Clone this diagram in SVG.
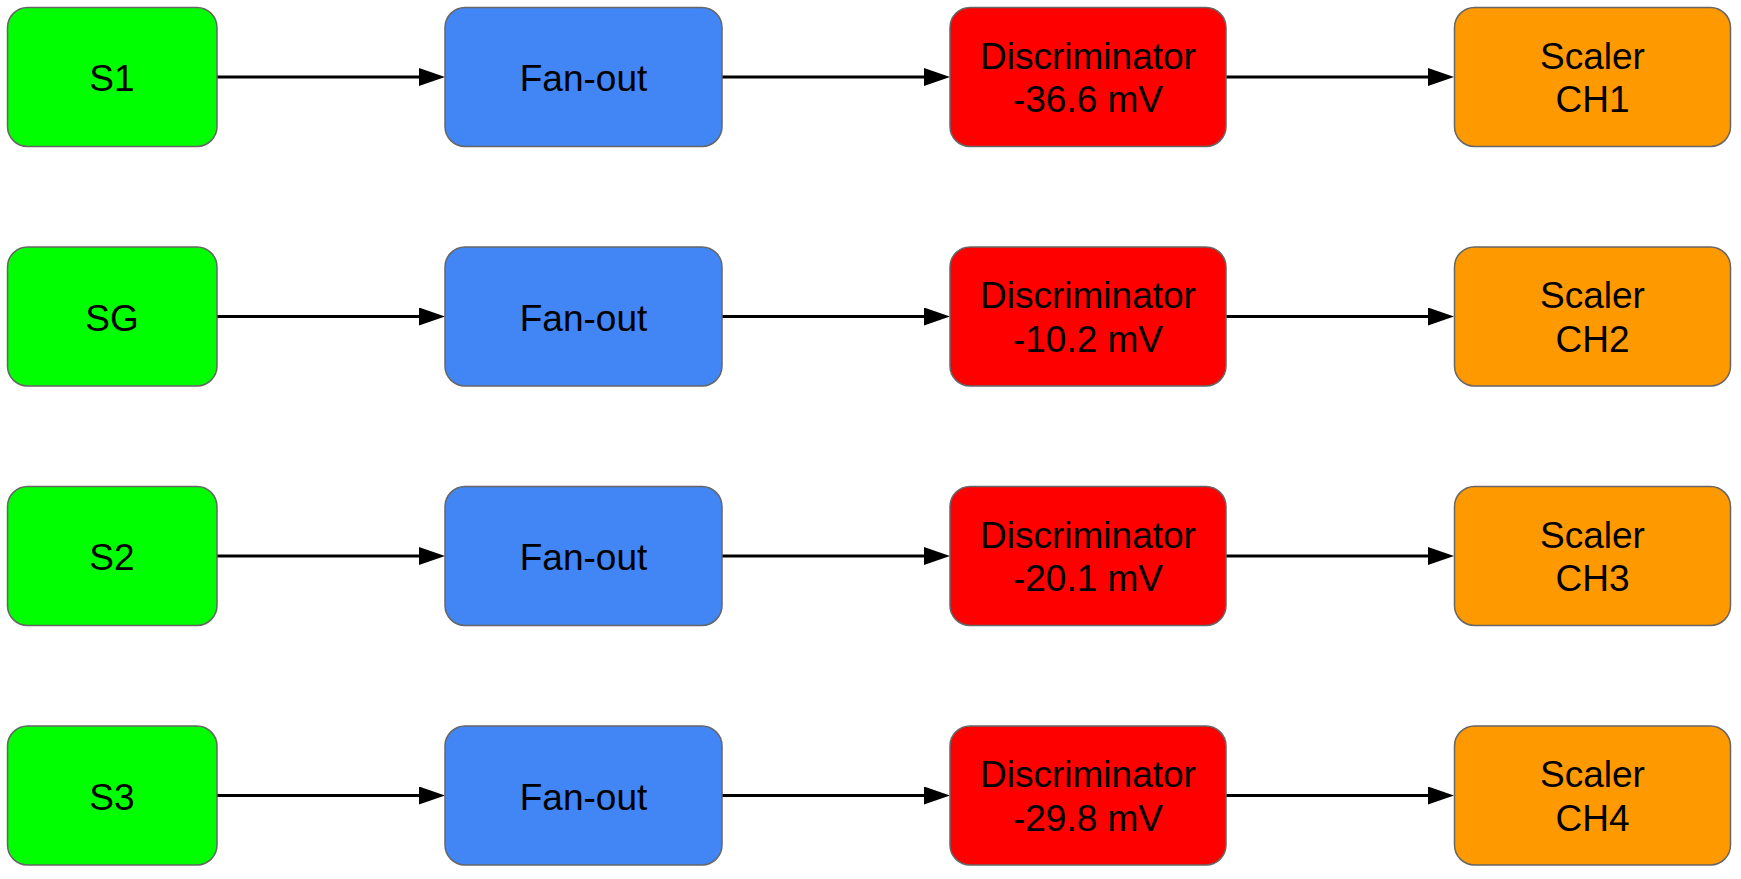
<svg xmlns="http://www.w3.org/2000/svg" width="1741" height="879" viewBox="0 0 1741 879">
<defs>
<style>
.box{stroke:#666666;stroke-width:1.5}
.src{fill:#00ff00}
.fan{fill:#4285f4}
.disc{fill:#ff0000}
.scal{fill:#ff9900}
text{font-family:"Liberation Sans",Arial,sans-serif;font-size:37px;fill:#000;text-anchor:middle}
.edge{stroke:#000;stroke-width:3;fill:none}
</style>
<marker id="arr" viewBox="0 0 26 18" refX="0" refY="9" markerWidth="26" markerHeight="18" markerUnits="userSpaceOnUse" orient="auto">
<path d="M0,0 L26,9 L0,18 z" fill="#000"/>
</marker>
</defs>
<rect width="1741" height="879" fill="#fff"/>
<g id="connectors">
<path class="edge" d="M217,77 H419" marker-end="url(#arr)"/>
<path class="edge" d="M722,77 H924" marker-end="url(#arr)"/>
<path class="edge" d="M1226,77 H1428" marker-end="url(#arr)"/>
<path class="edge" d="M217,316.5 H419" marker-end="url(#arr)"/>
<path class="edge" d="M722,316.5 H924" marker-end="url(#arr)"/>
<path class="edge" d="M1226,316.5 H1428" marker-end="url(#arr)"/>
<path class="edge" d="M217,556 H419" marker-end="url(#arr)"/>
<path class="edge" d="M722,556 H924" marker-end="url(#arr)"/>
<path class="edge" d="M1226,556 H1428" marker-end="url(#arr)"/>
<path class="edge" d="M217,795.5 H419" marker-end="url(#arr)"/>
<path class="edge" d="M722,795.5 H924" marker-end="url(#arr)"/>
<path class="edge" d="M1226,795.5 H1428" marker-end="url(#arr)"/>
</g>
<g id="s1"><rect class="box src" x="7.5" y="7.5" width="209.5" height="139" rx="20"/><text x="112" y="91">S1</text></g>
<g id="fanout1"><rect class="box fan" x="445" y="7.5" width="277" height="139" rx="20"/><text x="583.5" y="91">Fan-out</text></g>
<g id="disc1"><rect class="box disc" x="950" y="7.5" width="276" height="139" rx="20"/><text x="1088" y="68.5">Discriminator</text><text x="1088" y="112">-36.6 mV</text></g>
<g id="scaler1"><rect class="box scal" x="1454.5" y="7.5" width="276" height="139" rx="20"/><text x="1592.5" y="68.5">Scaler</text><text x="1592.5" y="112">CH1</text></g>

<g id="sg"><rect class="box src" x="7.5" y="247" width="209.5" height="139" rx="20"/><text x="112" y="330.5">SG</text></g>
<g id="fanout2"><rect class="box fan" x="445" y="247" width="277" height="139" rx="20"/><text x="583.5" y="330.5">Fan-out</text></g>
<g id="disc2"><rect class="box disc" x="950" y="247" width="276" height="139" rx="20"/><text x="1088" y="308">Discriminator</text><text x="1088" y="351.5">-10.2 mV</text></g>
<g id="scaler2"><rect class="box scal" x="1454.5" y="247" width="276" height="139" rx="20"/><text x="1592.5" y="308">Scaler</text><text x="1592.5" y="351.5">CH2</text></g>

<g id="s2"><rect class="box src" x="7.5" y="486.5" width="209.5" height="139" rx="20"/><text x="112" y="570">S2</text></g>
<g id="fanout3"><rect class="box fan" x="445" y="486.5" width="277" height="139" rx="20"/><text x="583.5" y="570">Fan-out</text></g>
<g id="disc3"><rect class="box disc" x="950" y="486.5" width="276" height="139" rx="20"/><text x="1088" y="547.5">Discriminator</text><text x="1088" y="591">-20.1 mV</text></g>
<g id="scaler3"><rect class="box scal" x="1454.5" y="486.5" width="276" height="139" rx="20"/><text x="1592.5" y="547.5">Scaler</text><text x="1592.5" y="591">CH3</text></g>

<g id="s3"><rect class="box src" x="7.5" y="726" width="209.5" height="139" rx="20"/><text x="112" y="809.5">S3</text></g>
<g id="fanout4"><rect class="box fan" x="445" y="726" width="277" height="139" rx="20"/><text x="583.5" y="809.5">Fan-out</text></g>
<g id="disc4"><rect class="box disc" x="950" y="726" width="276" height="139" rx="20"/><text x="1088" y="787">Discriminator</text><text x="1088" y="830.5">-29.8 mV</text></g>
<g id="scaler4"><rect class="box scal" x="1454.5" y="726" width="276" height="139" rx="20"/><text x="1592.5" y="787">Scaler</text><text x="1592.5" y="830.5">CH4</text></g>
</svg>
